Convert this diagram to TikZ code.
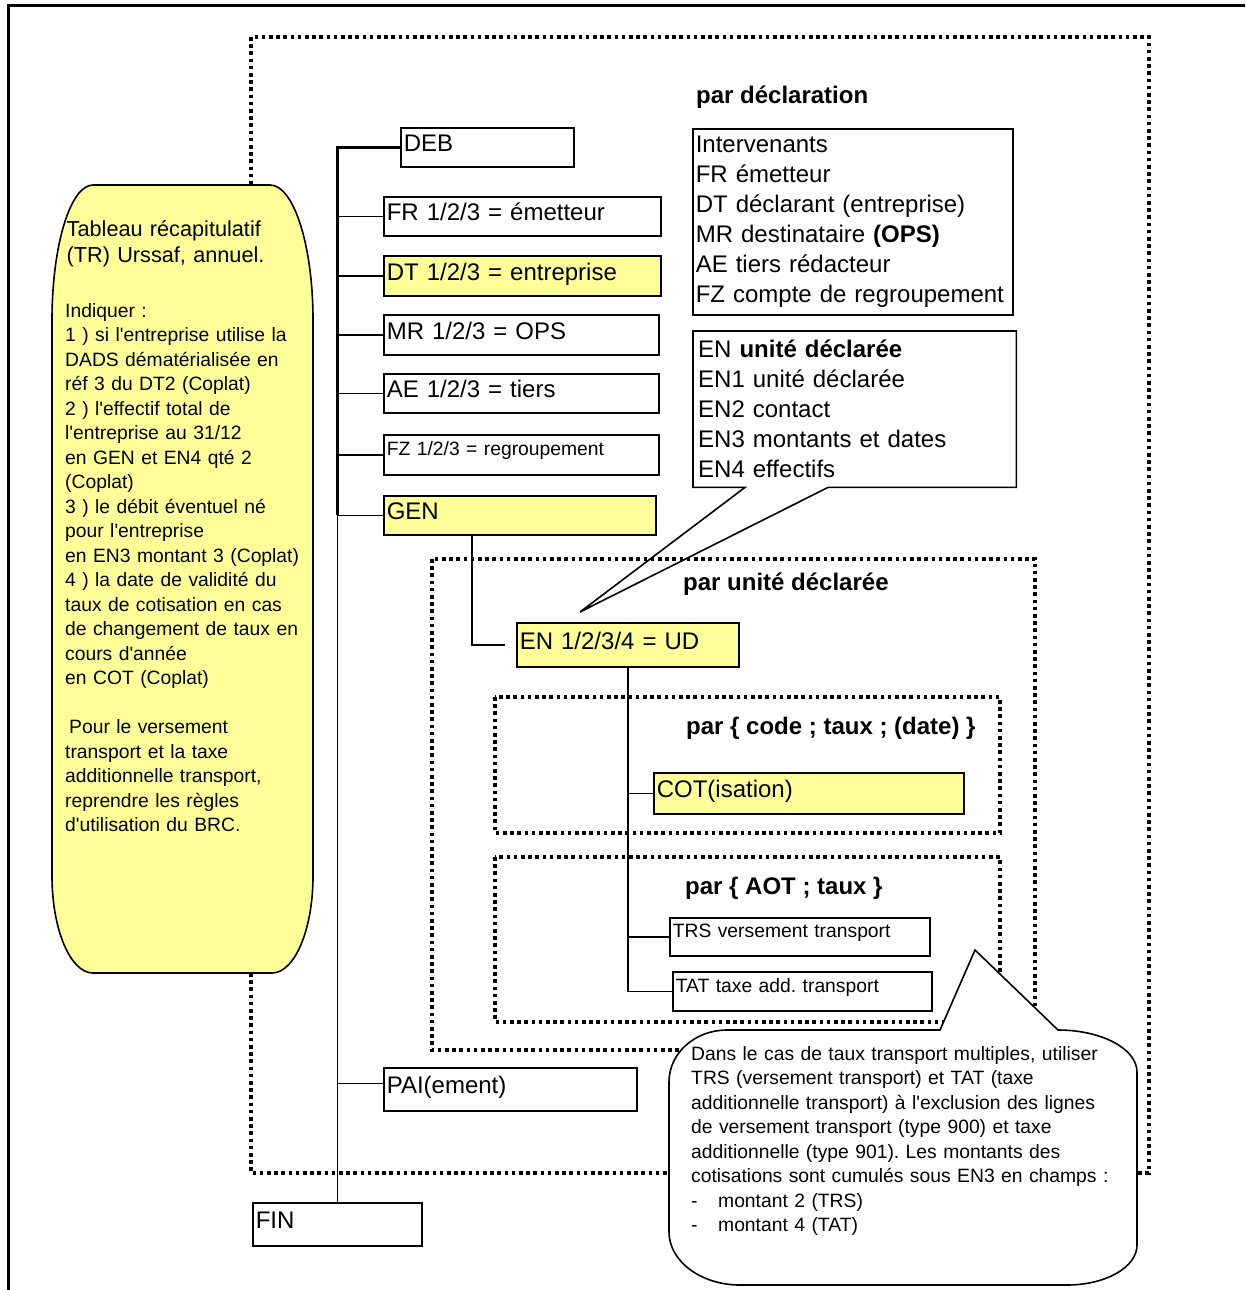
\documentclass[tikz,border=0pt]{standalone}
\usepackage{fontspec}
\setmainfont{Liberation Sans}[Ligatures=TeXOff]
\usepackage{tikz}
\definecolor{JaunePale}{HTML}{FFFF99}
\frenchspacing

\begin{document}
\begin{tikzpicture}[x=1pt, y=-1pt,
                    every node/.style={inner sep=0pt},
                    boite/.style 2 args={draw, line width=1.6pt, anchor=north west, inner xsep=3pt,
                                         inner ysep=0pt, align=left, text width=#1, minimum height=#2,
                                         text height=17pt, text depth=8pt, font=\fontsize{24}{30}\selectfont},
                    petit/.style={font=\fontsize{19.3}{24.5}\selectfont, text height=14pt, text depth=12pt},
                    jaune/.style={fill=JaunePale},
                    pointille/.style={line width=3.6pt, dash pattern=on 3.6pt off 3.6pt},
                    titre/.style={anchor=base west, font=\bfseries\fontsize{24}{30}\selectfont},
                    note/.style={anchor=base west, align=left, font=\fontsize{19.3}{24.5}\selectfont},
                    lien/.style={line width=1.6pt}]
\useasboundingbox (0,0) rectangle (1245,1290);
\draw[line width=3pt] (8,1290) -- (8,6) -- (1245,6);
\draw[pointille] (251,37) rectangle (1149,1173);
\draw[pointille] (432,559) rectangle (1035,1050);
\draw[pointille] (495,697) rectangle (1000,833);
\draw[pointille] (495,857) rectangle (1000,1022);

\node[titre] (pardecl) at (696,103) {par déclaration};
\node[titre] (parud) at (683,590) {par unité déclarée};
\node[titre] (parcode) at (686,734) {par \{ code ; taux ; (date) \}};
\node[titre] (paraot) at (685,894) {par \{ AOT ; taux \}};

\node[boite={167pt}{39pt}] (DEB) at (400,127) {DEB};
\node[boite={271pt}{39pt}] (FR) at (383,196) {FR 1/2/3 = émetteur};
\node[boite={271pt}{40pt}, jaune] (DT) at (383,255) {DT 1/2/3 = entreprise};
\node[boite={269pt}{40pt}] (MR) at (383,314) {MR 1/2/3 = OPS};
\node[boite={269pt}{39pt}] (AE) at (383,373) {AE 1/2/3 = tiers};
\node[boite={269pt}{40pt}, petit] (FZ) at (383,434) {FZ 1/2/3 = regroupement};
\node[boite={266pt}{39pt}, jaune] (GEN) at (383,495) {GEN};
\node[boite={216pt}{44pt}, jaune] (EN) at (516,622) {EN 1/2/3/4 = UD};
\node[boite={304pt}{41pt}, jaune] (COT) at (653,772) {COT(isation)};
\node[boite={254pt}{38pt}, petit] (TRS) at (669,917) {TRS versement transport};
\node[boite={253pt}{39pt}, petit] (TAT) at (672,971) {TAT taxe add. transport};
\node[boite={247pt}{43pt}] (PAI) at (383,1067) {PAI(ement)};
\node[boite={163pt}{43pt}] (FIN) at (252,1202) {FIN};

\node[draw, line width=1.6pt, anchor=north west, inner xsep=3pt, align=left, text width=314pt,
      minimum height=186pt, font=\fontsize{24}{30}\selectfont] (interv) at (692,128)
      {Intervenants\\FR émetteur\\DT déclarant (entreprise)\\MR destinataire \textbf{(OPS)}\\AE tiers rédacteur\\FZ compte de regroupement};
\node[anchor=north west, inner xsep=5pt, align=left, text width=313pt, minimum height=156pt,
      font=\fontsize{24}{30}\selectfont] (unite) at (693,331)
      {EN \textbf{unité déclarée}\\EN1 unité déclarée\\EN2 contact\\EN3 montants et dates\\EN4 effectifs};
\coordinate (pointe) at (580,612);
\draw[lien] ([xshift=52pt]unite.south west) -- (unite.south west) -- (unite.north west) -- (unite.north east)
  -- (unite.south east) -- ([xshift=135pt]unite.south west) -- (pointe) -- cycle;

\draw[line width=3pt] (DEB.west) -| (GEN.west -| FIN.north);
\draw[lien] (GEN.west -| FIN.north) -- (FIN.north);
\foreach \b in {FR,DT,MR,AE,FZ,GEN}
  \draw[lien] (\b.west -| FIN.north) -- (\b.west);
\coordinate (paibranche) at ([yshift=6pt]PAI.west);
\draw[lien] (paibranche -| FIN.north) -- (paibranche);
\coordinate (gendescente) at ([xshift=89pt]GEN.south west);
\draw[lien, shorten >=11pt] (gendescente) |- (EN.west);
\draw[lien] (EN.south) |- (TAT.west);
\draw[lien] (EN.south |- COT.west) -- (COT.west);
\draw[lien] (EN.south |- TRS.west) -- (TRS.west);

\filldraw[lien, fill=JaunePale] (93,185) -- (270,185) .. controls (293.7,185) and (313,245.4) .. (313,320)
  -- (313,876) .. controls (313,929.6) and (294.6,973) .. (272,973) -- (93,973)
  .. controls (70.4,973) and (52,929.6) .. (52,876) -- (52,320) .. controls (52,245.4) and (70.4,185) .. cycle;
\node[note, font=\fontsize{21.7}{26}\selectfont, text width=240pt] (tableau) at (66.5,236)
  {Tableau récapitulatif\\(TR) Urssaf, annuel.};
\node[note, text width=250pt] (indiquer) at (65,317)
  {Indiquer :\\1 ) si l'entreprise utilise la\\DADS dématérialisée en\\réf 3 du DT2 (Coplat)\\2 ) l'effectif total de\\l'entreprise au 31/12\\en GEN et EN4 qté 2\\(Coplat)\\3 ) le débit éventuel né\\pour l'entreprise\\en EN3 montant 3 (Coplat)\\4 ) la date de validité du\\taux de cotisation en cas\\de changement de taux en\\cours d'année\\en COT (Coplat)\\[24.5pt]\hspace*{4pt}Pour le versement\\transport et la taxe\\additionnelle transport,\\reprendre les règles\\d'utilisation du BRC.};

\filldraw[lien, fill=white] (727,1030) -- (940,1030) -- (975,950) -- (1058,1030)
  .. controls (1101.6,1030) and (1137,1048.8) .. (1137,1072) -- (1137,1245)
  .. controls (1137,1267) and (1106,1285) .. (1067,1285) -- (740,1285)
  .. controls (700.8,1285) and (669,1261) .. (669,1232) -- (669,1082)
  .. controls (669,1053) and (695,1030) .. cycle;
\node[note, text width=440pt] (bulle) at (691,1060)
  {Dans le cas de taux transport multiples, utiliser\\TRS (versement transport) et TAT (taxe\\additionnelle transport) à l'exclusion des lignes\\de versement transport (type 900) et taxe\\additionnelle (type 901). Les montants des\\cotisations sont cumulés sous EN3 en champs :\\\makebox[27pt][l]{-}montant 2 (TRS)\\\makebox[27pt][l]{-}montant 4 (TAT)};
\end{tikzpicture}
\end{document}
